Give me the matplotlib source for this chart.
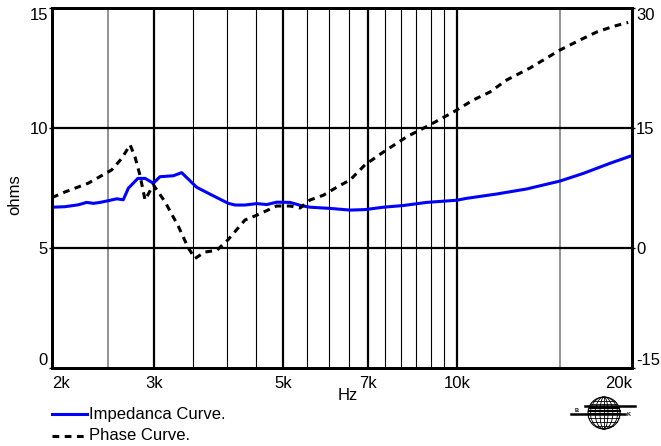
import numpy as np
import matplotlib
matplotlib.use('Agg')
from matplotlib import pyplot as plt
from matplotlib.lines import Line2D
from matplotlib.patches import Circle, Ellipse

plt.rcParams['font.family'] = ['Liberation Sans', 'DejaVu Sans']
plt.rcParams['axes.unicode_minus'] = False

# impedance curve (Hz, ohms)
imp_freq = [2000, 2105, 2220, 2295, 2357, 2420, 2500, 2586, 2654, 2708, 2812, 2894,
            2990, 3070, 3238, 3346, 3552, 3720, 3870, 4028, 4137, 4303, 4509, 4692,
            4880, 5146, 5390, 5570, 6030, 6530, 6930, 7454, 8068, 8851, 9972, 10376,
            11690, 13166, 15028, 16490, 17388, 18330, 20000]
imp_ohms = [6.70, 6.72, 6.80, 6.90, 6.86, 6.90, 6.97, 7.05, 7.01, 7.49, 7.90, 7.90,
            7.70, 7.97, 8.01, 8.14, 7.53, 7.28, 7.07, 6.86, 6.79, 6.79, 6.85, 6.81,
            6.91, 6.90, 6.76, 6.70, 6.65, 6.58, 6.60, 6.70, 6.77, 6.90, 6.99, 7.07,
            7.25, 7.46, 7.79, 8.11, 8.32, 8.53, 8.85]

# phase curve (Hz, degrees)
ph_freq = [2000, 2105, 2310, 2534, 2638, 2727, 2780, 2836, 2894, 2990, 3131, 3303,
           3436, 3529, 3671, 3846, 4019, 4303, 4509, 4880, 5146, 5354, 5570, 5875,
           6194, 6530, 6930, 7454, 8178, 8970, 9840, 10650, 11380, 12160, 13340,
           15028, 16270, 17388, 18570, 19700]
ph_deg = [6.3, 7.0, 8.1, 9.75, 11.2, 12.9, 11.4, 9.1, 6.0, 7.9, 5.8, 2.7,
          0.0, -1.3, -0.5, -0.3, 1.0, 3.5, 4.1, 5.25, 5.25, 5.0, 6.0, 6.6,
          7.6, 8.5, 10.4, 12.0, 13.9, 15.4, 17.0, 18.5, 19.5, 21.0, 22.5,
          24.75, 26.0, 27.0, 27.7, 28.2]

x_ticks = [2000, 3000, 5000, 7000, 10000, 20000]
x_labels = ['2k', '3k', '5k', '7k', '10k', '20k']
grid_major = [3000, 5000, 7000, 10000]
grid_minor = [3500, 4000, 4500, 5500, 6000, 6500, 7500, 8000, 8500, 9000, 9500]
grid_gray = [2500, 15000]
ohm_ticks = [0, 5, 10, 15]
deg_ticks = [-15, 0, 15, 30]

W, H = 661, 446
fig = plt.figure(figsize=(W / 100, H / 100), dpi=100)
ax = fig.add_axes([52 / W, 1 - 368 / H, 580 / W, 360 / H])

for f in grid_minor:
    ax.axvline(f, color='black', lw=0.8, zorder=1)
for f in grid_gray:
    ax.axvline(f, color='#808080', lw=1.2, zorder=1)
for f in grid_major:
    ax.axvline(f, color='black', lw=1.6, zorder=1)
for v in [5, 10]:
    ax.axhline(v, color='black', lw=1.6, zorder=1)

ax.plot(imp_freq, imp_ohms, color='#0000ff', lw=2.2, zorder=3)

ax.set_xscale('log')
ax.set_xlim(2000, 20000)
ax.set_ylim(0, 15)
ax.set_xticks(x_ticks)
ax.set_xticklabels(x_labels)
ax.xaxis.set_minor_locator(matplotlib.ticker.NullLocator())
ax.set_yticks(ohm_ticks)
ax.tick_params(axis='both', labelsize=12, length=2, width=1, pad=1)
ax.tick_params(axis='x', length=0, pad=6)

xl = ax.get_xticklabels()
xl[0].set_horizontalalignment('left')
xl[-1].set_horizontalalignment('right')
yl = ax.get_yticklabels()
yl[0].set_verticalalignment('bottom')
yl[-1].set_verticalalignment('top')

for s in ax.spines.values():
    s.set_linewidth(2)

ax2 = ax.twinx()
ax2.plot(ph_freq, ph_deg, color='black', lw=2.2, dashes=(2.2, 1.8), zorder=3)
ax2.set_ylim(-15, 30)
ax2.set_yticks(deg_ticks)
ax2.tick_params(axis='y', labelsize=12, length=2, width=1, pad=1)
yr = ax2.get_yticklabels()
yr[0].set_verticalalignment('bottom')
yr[-1].set_verticalalignment('top')
for s in ax2.spines.values():
    s.set_linewidth(2)

fig.text(348 / W, 1 - 396 / H, 'Hz', fontsize=12, ha='center', va='center')
fig.text(15 / W, 1 - 195 / H, 'ohms', fontsize=12, ha='center', va='center',
         rotation=90)

# legend below the chart
fig.add_artist(Line2D([52 / W, 87 / W], [1 - 414 / H] * 2, color='#0000ff', lw=2.2))
fig.text(89 / W, 1 - 414 / H, 'Impedanca Curve.', fontsize=12, va='center')
fig.add_artist(Line2D([52 / W, 87 / W], [1 - 436 / H] * 2, color='black', lw=2.2,
                      dashes=(2.2, 1.8)))
fig.text(89 / W, 1 - 436 / H, 'Phase Curve.', fontsize=12, va='center')

# small globe logo
lg = fig.add_axes([566 / W, 1 - 433 / H, 76 / W, 40 / H])
lg.set_xlim(566, 642)
lg.set_ylim(433, 393)
lg.axis('off')
cx, cy, r = 604, 413, 16
lg.add_patch(Circle((cx, cy), r, fill=False, lw=0.8, color='black'))
for w in [0.25, 0.55, 0.85]:
    lg.add_patch(Ellipse((cx, cy), 2 * r * w, 2 * r, fill=False, lw=0.6, color='black'))
lg.plot([cx, cx], [cy - r, cy + r], color='black', lw=0.6)
for yy in [401, 404, 418, 422, 426]:
    dx = np.sqrt(max(r * r - (yy - cy) ** 2, 0))
    lg.plot([cx - dx, cx + dx], [yy, yy], color='black', lw=0.6)
for yy in np.arange(407, 415, 1.5):
    dx = np.sqrt(max(r * r - (yy - cy) ** 2, 0))
    lg.plot([cx - dx, cx + dx], [yy, yy], color='black', lw=0.8)
lg.plot([585, 635], [406.5, 406.5], color='black', lw=1.8)
lg.plot([571, 625], [414.5, 414.5], color='black', lw=1.8)
lg.text(577, 411, 'B', fontsize=4, fontweight='bold', ha='center', va='center')
lg.text(629, 415, 'K', fontsize=4, fontweight='bold', ha='center', va='center')

fig.savefig('out.png', dpi=100)
